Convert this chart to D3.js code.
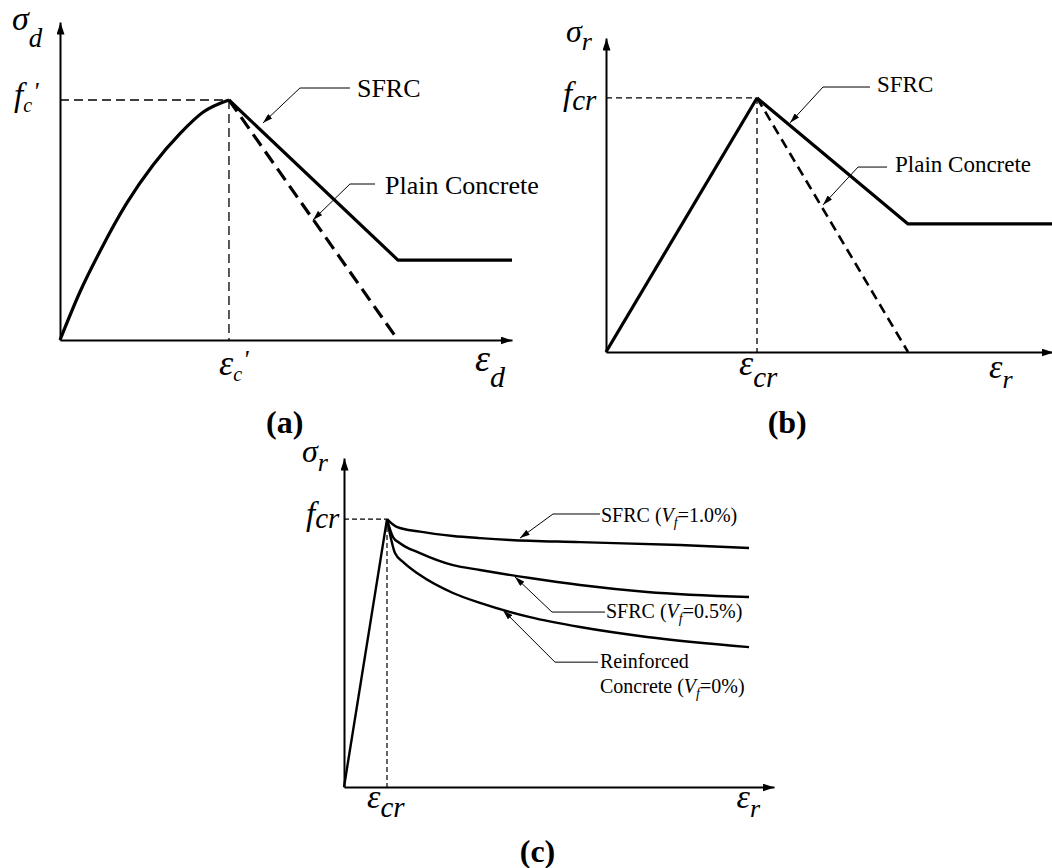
<!DOCTYPE html>
<html><head><meta charset="utf-8">
<script src="https://cdn.jsdelivr.net/npm/d3@7"></script>
<style>
body{margin:0;background:#fff}
svg{display:block}
text{font-family:"Liberation Serif","Times New Roman",serif;fill:#000}
</style>
</head><body>
<svg id="fig" width="1052" height="868"></svg>
<script>
// ---------- DATA (normalised: strain / peak strain, stress / peak stress) ----------
// Panel (a) : compression
const aAscending   = [[0,0],[0.118,0.2],[0.237,0.37],[0.395,0.57],[0.552,0.73],[0.71,0.86],[0.848,0.95],[1,1]];
const aSFRC        = [[1,1],[2.0,0.333],[2.675,0.333]];
const aPlain       = [[1,1],[2.0,0]];
// Panel (b) : tension
const bAscending   = [[0,0],[1,1]];
const bSFRC        = [[1,1],[2.0,0.504],[2.96,0.504]];
const bPlain       = [[1,1],[2.0,0]];
// Panel (c) : tension stiffening
const cAscending   = [[0,0],[1,1]];
const cSFRC10      = [[1,1],[1.226,0.971],[1.767,0.953],[2.535,0.937],[3.163,0.929],[3.86,0.922],[5.488,0.914],[7.814,0.903],[9.419,0.892]];
const cSFRC05      = [[1,1],[1.14,0.933],[1.302,0.91],[1.767,0.873],[2.535,0.828],[3.163,0.81],[4.326,0.78],[5.488,0.754],[7.047,0.728],[9.419,0.709]];
const cRC          = [[1,1],[1.186,0.873],[1.372,0.84],[1.767,0.791],[2.535,0.724],[3.163,0.687],[4.326,0.634],[5.488,0.597],[7.047,0.56],[9.419,0.522]];

// Annotation labels
const aLabels = ["SFRC","Plain Concrete"];
const bLabels = ["SFRC","Plain Concrete"];
const cLabels = [["SFRC (","V","f","=1.0%)"],["SFRC (","V","f","=0.5%)"],["Concrete  (","V","f","=0%)"]];
const panelTitles = ["a","b","c"];

// ---------- SETUP ----------
const svg = d3.select("#fig");
const defs = svg.append("defs");
defs.append("marker").attr("id","axArrow").attr("viewBox","0 0 12 8").attr("refX",12).attr("refY",4)
  .attr("markerWidth",12).attr("markerHeight",8).attr("markerUnits","userSpaceOnUse").attr("orient","auto")
  .append("path").attr("d","M0,0L12,4L0,8Z").attr("fill","#000");
defs.append("marker").attr("id","ldArrow").attr("viewBox","0 0 10 6").attr("refX",10).attr("refY",3)
  .attr("markerWidth",10).attr("markerHeight",6).attr("markerUnits","userSpaceOnUse").attr("orient","auto")
  .append("path").attr("d","M0,0L10,3L0,6Z").attr("fill","#000");

function axes(x, y, w){
  const gx = svg.append("g").attr("transform",`translate(0,${y.range()[0]})`)
    .call(d3.axisBottom(x).tickValues([]).tickSizeOuter(0));
  gx.select(".domain").attr("stroke","#000").attr("stroke-width",w).attr("marker-end","url(#axArrow)");
  const gy = svg.append("g").attr("transform",`translate(${x.range()[0]},0)`)
    .call(d3.axisLeft(y).tickValues([]).tickSizeOuter(0));
  gy.select(".domain").attr("stroke","#000").attr("stroke-width",w).attr("marker-end","url(#axArrow)");
}
function path(x, y, data, opts){
  const line = d3.line().x(d=>x(d[0])).y(d=>y(d[1])).curve(opts.curve||d3.curveLinear);
  return svg.append("path").attr("d",line(data)).attr("fill","none").attr("stroke","#000")
    .attr("stroke-width",opts.w).attr("stroke-dasharray",opts.dash||null)
    .attr("stroke-linejoin","round").attr("stroke-linecap",opts.cap||"butt");
}
function guides(x, y, dash, w){
  path(x,y,[[0,1],[1,1]],{w:w,dash:dash});
  path(x,y,[[1,1],[1,0]],{w:w,dash:dash});
}
function leader(x, y, pts){
  const line = d3.line().x(d=>x(d[0])).y(d=>y(d[1]));
  svg.append("path").attr("d",line(pts)).attr("fill","none").attr("stroke","#000")
    .attr("stroke-width",1).attr("marker-end","url(#ldArrow)");
}
// parts: [text, size, dy, italic, dx]
function sym(px, py, parts, anchor){
  const t = svg.append("text").attr("x",px).attr("y",py).attr("text-anchor",anchor||"start");
  parts.forEach(p=>{
    t.append("tspan").text(p[0]).attr("font-size",p[1]).attr("dy",p[2]||0).attr("dx",p[4]||0)
      .attr("font-style",p[3]===false?"normal":"italic");
  });
  return t;
}

// ---------- PANEL (a) ----------
const xA = d3.scaleLinear().domain([0,2.675]).range([60,512]);
const yA = d3.scaleLinear().domain([0,1.325]).range([340,22]);
guides(xA,yA,"9,5",1.3);
axes(xA,yA,2);
path(xA,yA,aAscending,{w:3.2,curve:d3.curveMonotoneX});
path(xA,yA,aSFRC,{w:3.2});
path(xA,yA,aPlain,{w:3.2,dash:"14,7"});
sym(12,30,[["σ",34],["d",27,17]]);
sym(14,yA(1)+6,[["f",33],["c",20,6],["'",26,-12,true,1]]);
sym(xA(1)-10,375,[["ε",36],["c",20,6],["'",26,-13,true,1]]);
sym(xA(2.45)+1,371,[["ε",38],["d",30,16,true,0]]);
leader(xA,yA,[[1.716,1.05],[1.42,1.05],[1.201,0.904]]);
leader(xA,yA,[[1.864,0.65],[1.716,0.65],[1.497,0.5]]);
svg.append("text").attr("x",xA(1.716)+7).attr("y",yA(1.05)+9).attr("font-size",26).text(aLabels[0]);
svg.append("text").attr("x",xA(1.864)+10).attr("y",yA(0.65)+10).attr("font-size",26).text(aLabels[1]);
sym(xA(1.33),433,[["(",32,0,false],[panelTitles[0],32,0,false],[")",32,0,false]],"middle").attr("font-weight","bold");

// ---------- PANEL (b) ----------
const xB = d3.scaleLinear().domain([0,2.96]).range([606,1053]);
const yB = d3.scaleLinear().domain([0,1.236]).range([352,38]);
guides(xB,yB,"6,4",1.3);
axes(xB,yB,2);
path(xB,yB,bAscending,{w:3.2});
path(xB,yB,bSFRC,{w:3.2});
path(xB,yB,bPlain,{w:2.6,dash:"10,6"});
sym(566,42,[["σ",32],["r",26,8]]);
sym(563,yB(1)+7,[["f",33],["cr",29,5]]);
sym(xB(1)-18,375,[["ε",36],["cr",29,12,true,0]]);
sym(xB(2.55)-2,378,[["ε",34],["r",26,10,true,0]]);
leader(xB,yB,[[1.748,1.043],[1.437,1.043],[1.219,0.902]]);
leader(xB,yB,[[1.861,0.728],[1.669,0.728],[1.437,0.579]]);
svg.append("text").attr("x",xB(1.748)+7).attr("y",yB(1.043)+5).attr("font-size",23).text(bLabels[0]);
svg.append("text").attr("x",xB(1.861)+8).attr("y",yB(0.728)+5).attr("font-size",23).text(bLabels[1]);
sym(xB(1.2),433,[["(",32,0,false],[panelTitles[1],32,0,false],[")",32,0,false]],"middle").attr("font-weight","bold");

// ---------- PANEL (c) ----------
const xC = d3.scaleLinear().domain([0,10]).range([344,774]);
const yC = d3.scaleLinear().domain([0,1.228]).range([787,458]);
guides(xC,yC,"5,3",1.2);
axes(xC,yC,2);
path(xC,yC,cAscending,{w:2.4});
path(xC,yC,cSFRC10,{w:2.4,curve:d3.curveMonotoneX});
path(xC,yC,cSFRC05,{w:2.4,curve:d3.curveMonotoneX});
path(xC,yC,cRC,{w:2.4,curve:d3.curveMonotoneX});
sym(302,462,[["σ",32],["r",26,9]]);
sym(306,yC(1)+6,[["f",33],["cr",29,3]]);
sym(xC(1)-20,808,[["ε",34],["cr",29,9,true,0]]);
sym(xC(9.2)-3,808,[["ε",34],["r",26,9,true,0]]);
leader(xC,yC,[[5.953,1.019],[4.86,1.019],[4.093,0.929]]);
leader(xC,yC,[[6.07,0.653],[4.837,0.653],[3.977,0.784]]);
leader(xC,yC,[[5.907,0.466],[4.907,0.466],[3.698,0.66]]);
function vlabel(px, py, parts){
  const t = svg.append("text").attr("x",px).attr("y",py).attr("font-size",20);
  t.append("tspan").text(parts[0]);
  t.append("tspan").text(parts[1]).attr("font-style","italic");
  t.append("tspan").text(parts[2]).attr("font-style","italic").attr("font-size",14).attr("dy",5);
  t.append("tspan").text(parts[3]).attr("dy",-5);
}
vlabel(xC(5.953)+1,yC(1.019)+8,cLabels[0]);
vlabel(xC(6.07)+1,yC(0.653)+6,cLabels[1]);
svg.append("text").attr("x",xC(5.907)+2).attr("y",yC(0.466)+6).attr("font-size",20).text("Reinforced");
vlabel(xC(5.907)+2,yC(0.466)+31,cLabels[2]);
sym(xC(4.5),862,[["(",32,0,false],[panelTitles[2],32,0,false],[")",32,0,false]],"middle").attr("font-weight","bold");
</script>
</body></html>
